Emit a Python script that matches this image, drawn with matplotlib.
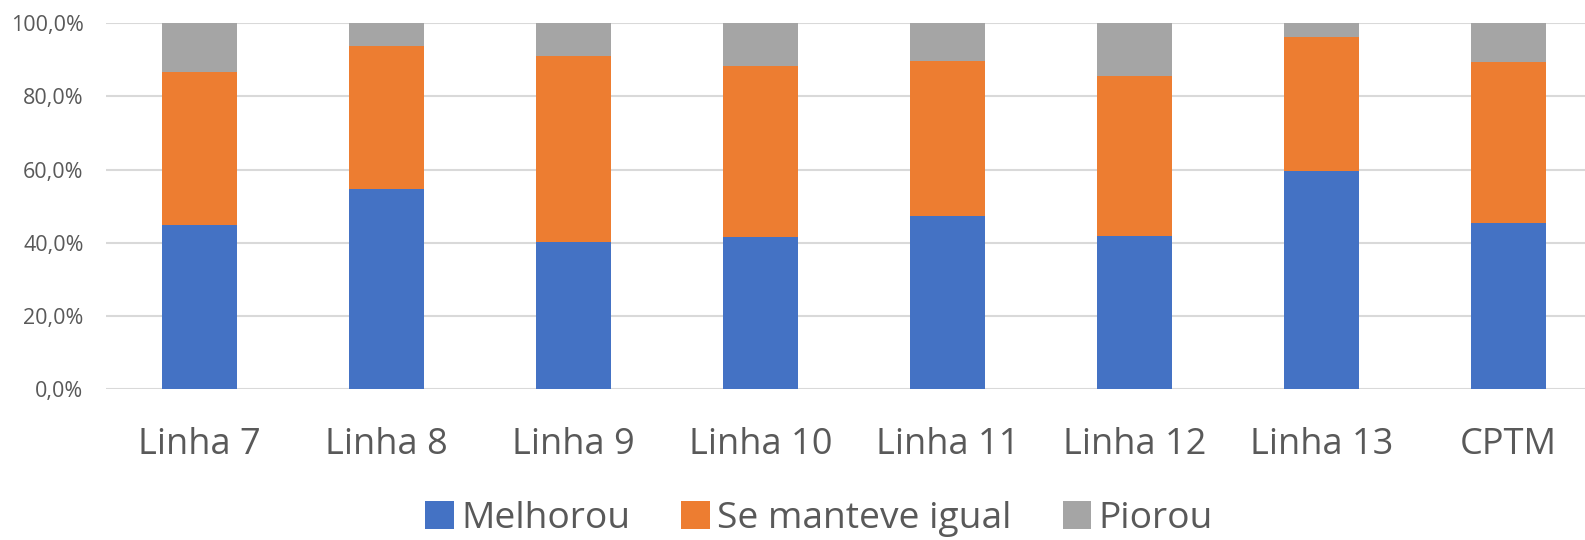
import matplotlib
matplotlib.use("Agg")
import matplotlib.pyplot as plt
from matplotlib.ticker import FuncFormatter
import numpy as np

plt.rcParams['font.family'] = ['Open Sans', 'DejaVu Sans']

categories = ["Linha 7", "Linha 8", "Linha 9", "Linha 10", "Linha 11", "Linha 12", "Linha 13", "CPTM"]
melhorou = [45.0, 54.6, 40.3, 41.7, 47.4, 41.8, 59.6, 45.5]
manteve = [41.7, 39.3, 50.8, 46.7, 42.2, 43.9, 36.7, 43.8]
piorou = [13.3, 6.1, 8.9, 11.6, 10.4, 14.3, 3.7, 10.7]

series = [("Melhorou", melhorou, "#4472C4"),
          ("Se manteve igual", manteve, "#ED7D31"),
          ("Piorou", piorou, "#A5A5A5")]

text_color = "#595959"

fig = plt.figure(figsize=(15.85, 5.40), dpi=100)
ax = fig.add_axes([105.8 / 1585, 1 - 389.3 / 540, 1496 / 1585, 366 / 540])

x = np.arange(len(categories))
bottom = np.zeros(len(categories))
for name, vals, color in series:
    ax.bar(x, vals, width=0.4, bottom=bottom, color=color, label=name,
           edgecolor="none", zorder=3)
    bottom += np.array(vals)

ax.set_xlim(-0.5, len(categories) - 0.5)
ax.set_ylim(0, 100)
ax.set_yticks(np.arange(0, 101, 20))
ax.yaxis.set_major_formatter(FuncFormatter(lambda v, p: f"{v:.1f}%".replace(".", ",")))
ax.grid(axis="y", color="#D9D9D9", linewidth=1.5, zorder=0)
for s in ax.spines.values():
    s.set_visible(False)

ax.set_xticks(x)
ax.set_xticklabels(categories)
ax.tick_params(axis="y", length=0, pad=16, labelsize=15.5, labelcolor=text_color)
ax.tick_params(axis="x", length=0, pad=27, labelsize=26, labelcolor=text_color)

leg = fig.legend(loc="center", bbox_to_anchor=(819 / 1585, 1 - 519 / 540),
                 ncol=3, frameon=False, fontsize=26.7,
                 handlelength=0.76, handleheight=0.76, handletextpad=0.2,
                 columnspacing=1.38, borderaxespad=0, borderpad=0)
for t in leg.get_texts():
    t.set_color(text_color)

fig.savefig("out.png", dpi=100)
